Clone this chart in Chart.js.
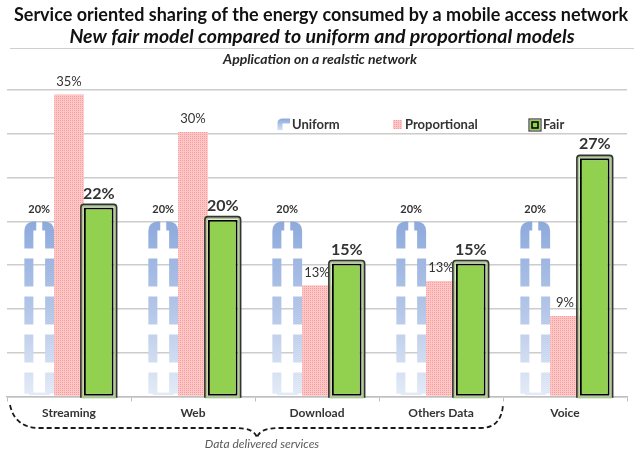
<!DOCTYPE html>
<html>
<head>
<meta charset="utf-8">
<script src="https://cdn.jsdelivr.net/npm/chart.js@4.4.1/dist/chart.umd.min.js"></script>
<style>
  html, body { margin: 0; padding: 0; background: #ffffff; }
  #wrap { position: relative; width: 634px; height: 456px; }
</style>
</head>
<body>
<div id="wrap"><canvas id="c" width="634" height="456"></canvas></div>
<script>
// ---- data ----
const categories = ['Streaming', 'Web', 'Download', 'Others Data', 'Voice'];
const seriesNames = ['Uniform', 'Proportional', 'Fair'];
const uniformValues = [20, 20, 20, 20, 20];
const proportionalValues = [34.5, 30.2, 12.7, 13.2, 9.2];
const fairValues = [21.6, 20.2, 15.2, 15.2, 27.2];
const titleLines = [
  'Service oriented sharing of the energy consumed by a mobile access network',
  'New fair model compared to uniform and proportional models',
  'Application on a realstic network'
];
const braceLabel = 'Data delivered services';
const yMax = 35;
const yStep = 5;

const FONT = 'Lato, "Open Sans", sans-serif';
const TXT = '#333333';

// pink dotted pattern
function makePinkPattern() {
  const pc = document.createElement('canvas');
  pc.width = 2; pc.height = 2;
  const p = pc.getContext('2d');
  p.fillStyle = '#ffc6c6'; p.fillRect(0, 0, 2, 2);
  p.fillStyle = '#f59e9e'; p.fillRect(0, 0, 1, 1);
  return document.getElementById('c').getContext('2d').createPattern(pc, 'repeat');
}
const pinkPattern = makePinkPattern();

function fitFont(ctx, text, style, target, maxSize) {
  let s = maxSize;
  while (s > 6) {
    ctx.font = style + ' ' + s + 'px ' + FONT;
    if (ctx.measureText(text).width <= target) break;
    s -= 0.25;
  }
  return ctx.font;
}

function drawUniformBox(ctx, x, top, base, w, grad) {
  const lw = 9;
  const l = x - w / 2 + lw / 2, r = x + w / 2 - lw / 2;
  const t = top + lw / 2, b = base - 2;
  const rad = 5;
  ctx.save();
  ctx.strokeStyle = grad;
  ctx.lineWidth = lw;
  ctx.setLineDash([28, 10]);
  // left half
  ctx.beginPath();
  ctx.moveTo(x - 3, t);
  ctx.lineTo(l + rad, t);
  ctx.quadraticCurveTo(l, t, l, t + rad);
  ctx.lineTo(l, b);
  ctx.stroke();
  // right half
  ctx.beginPath();
  ctx.moveTo(x + 3, t);
  ctx.lineTo(r - rad, t);
  ctx.quadraticCurveTo(r, t, r, t + rad);
  ctx.lineTo(r, b);
  ctx.stroke();
  // faint bottom
  ctx.setLineDash([]);
  ctx.lineWidth = 2.5;
  ctx.beginPath();
  ctx.moveTo(l, base - 2);
  ctx.lineTo(r, base - 2);
  ctx.stroke();
  ctx.restore();
}

const decorPlugin = {
  id: 'decor',
  beforeDatasetsDraw(chart) {
    const ctx = chart.ctx;
    const meta = chart.getDatasetMeta(0);
    meta.data.forEach((el) => {
      const p = el.getProps(['x', 'y', 'base', 'width'], true);
      const g = ctx.createLinearGradient(0, p.y, 0, p.base);
      g.addColorStop(0, '#8eaadc');
      g.addColorStop(0.5, '#b3c6e8');
      g.addColorStop(1, '#e4ebf7');
      drawUniformBox(ctx, p.x, p.y, p.base, p.width, g);
    });
  },
  afterDatasetsDraw(chart) {
    const ctx = chart.ctx;
    // fair double frame
    const fm = chart.getDatasetMeta(2);
    fm.data.forEach((el) => {
      const p = el.getProps(['x', 'y', 'base', 'width'], true);
      ctx.save();
      ctx.strokeStyle = '#a8c88c';
      ctx.lineWidth = 2;
      ctx.strokeRect(p.x - p.width / 2 - 1.5, p.y - 1.5, p.width + 3, p.base - p.y + 3);
      ctx.strokeStyle = '#333333';
      ctx.lineWidth = 1.6;
      ctx.beginPath();
      const rr = 3;
      const L = p.x - p.width / 2 - 3, R = p.x + p.width / 2 + 3, T = p.y - 3, B = p.base + 2;
      ctx.moveTo(L, B);
      ctx.lineTo(L, T + rr);
      ctx.quadraticCurveTo(L, T, L + rr, T);
      ctx.lineTo(R - rr, T);
      ctx.quadraticCurveTo(R, T, R, T + rr);
      ctx.lineTo(R, B);
      ctx.stroke();
      ctx.restore();
    });
    // data labels
    const styles = [
      { font: 'bold 11px ' + FONT, off: 12, vals: uniformValues },
      { font: '13px ' + FONT, off: 13, vals: proportionalValues },
      { font: 'bold 16px ' + FONT, off: 14, vals: fairValues }
    ];
    ctx.save();
    ctx.fillStyle = TXT;
    ctx.textAlign = 'center';
    ctx.textBaseline = 'middle';
    styles.forEach((s, di) => {
      const m = chart.getDatasetMeta(di);
      ctx.font = s.font;
      m.data.forEach((el, i) => {
        const p = el.getProps(['x', 'y'], true);
        ctx.fillText(Math.round(s.vals[i]) + '%', p.x, p.y - s.off);
      });
    });
    ctx.restore();
  },
  afterDraw(chart) {
    const ctx = chart.ctx;
    const W = chart.width;
    ctx.save();
    ctx.textAlign = 'center';
    ctx.textBaseline = 'middle';
    ctx.fillStyle = '#111111';
    ctx.font = fitFont(ctx, titleLines[0], 'bold', 620, 20);
    ctx.fillText(titleLines[0], 321, 15);
    ctx.font = fitFont(ctx, titleLines[1], 'italic bold', 506, 20);
    ctx.fillText(titleLines[1], 322, 37);
    ctx.strokeStyle = '#cfcfcf';
    ctx.lineWidth = 1;
    ctx.beginPath(); ctx.moveTo(10, 48.5); ctx.lineTo(W, 48.5); ctx.stroke();
    ctx.fillStyle = '#262626';
    ctx.font = fitFont(ctx, titleLines[2], 'italic bold', 213, 14);
    ctx.fillText(titleLines[2], 320, 59);

    // legend
    const ly = 125;
    ctx.textAlign = 'left';
    ctx.font = 'bold 13px ' + FONT;
    ctx.fillStyle = TXT;
    // uniform icon
    const ug = ctx.createLinearGradient(0, ly - 6, 0, ly + 5);
    ug.addColorStop(0, '#8eaadc'); ug.addColorStop(1, '#d6e1f3');
    ctx.strokeStyle = ug; ctx.lineWidth = 5;
    ctx.beginPath(); ctx.moveTo(280, ly + 5); ctx.lineTo(280, ly - 2); ctx.quadraticCurveTo(280, ly - 4, 283, ly - 4); ctx.lineTo(290, ly - 4); ctx.stroke();
    ctx.fillText(seriesNames[0], 292, ly);
    // proportional icon
    ctx.fillStyle = pinkPattern; ctx.fillRect(393, ly - 5, 9, 9);
    ctx.fillStyle = TXT;
    ctx.fillText(seriesNames[1], 405, ly);
    // fair icon
    ctx.fillStyle = '#92d050'; ctx.fillRect(530, ly - 5, 10, 10);
    ctx.strokeStyle = '#000'; ctx.lineWidth = 1.5; ctx.strokeRect(532, ly - 3, 6, 6);
    ctx.strokeStyle = '#3a3a3a'; ctx.lineWidth = 1.2; ctx.strokeRect(529, ly - 6, 12, 12);
    ctx.fillStyle = TXT;
    ctx.fillText(seriesNames[2], 543, ly);

    // brace under the data services
    const ca = chart.chartArea;
    const catW = (ca.right - ca.left) / categories.length;
    const x0 = ca.left + 3;
    const xm = ca.left + catW * 2 + 2;
    const x1 = ca.left + catW * 4;
    const yb = 428, yt = 405, yp = 438;
    ctx.strokeStyle = '#1a1a1a';
    ctx.lineWidth = 1.8;
    ctx.setLineDash([5, 3]);
    ctx.beginPath();
    ctx.moveTo(x0, yt);
    ctx.quadraticCurveTo(x0 + 5, yb, x0 + 30, yb);
    ctx.lineTo(xm - 22, yb);
    ctx.quadraticCurveTo(xm - 2, yb, xm, yp);
    ctx.quadraticCurveTo(xm + 2, yb, xm + 22, yb);
    ctx.lineTo(x1 - 22, yb);
    ctx.quadraticCurveTo(x1 - 2, yb, x1, yt);
    ctx.stroke();
    ctx.setLineDash([]);
    ctx.textAlign = 'center';
    ctx.fillStyle = '#595959';
    ctx.font = 'italic 12px ' + FONT;
    ctx.fillText(braceLabel, 262, 444);
    ctx.restore();
  }
};

new Chart(document.getElementById('c'), {
  type: 'bar',
  data: {
    labels: categories,
    datasets: [
      { label: seriesNames[0], data: uniformValues, backgroundColor: 'rgba(0,0,0,0)', borderWidth: 0 },
      { label: seriesNames[1], data: proportionalValues, backgroundColor: pinkPattern, borderWidth: 0 },
      { label: seriesNames[2], data: fairValues, backgroundColor: '#92d050', borderColor: '#000000', borderWidth: 2, borderSkipped: false }
    ]
  },
  options: {
    responsive: false,
    animation: false,
    devicePixelRatio: 1,
    categoryPercentage: 0.72,
    barPercentage: 1.0,
    layout: { padding: { top: 90, left: 7, right: 7, bottom: 32 } },
    plugins: { legend: { display: false }, title: { display: false }, tooltip: { enabled: false } },
    scales: {
      x: {
        grid: { display: true, drawOnChartArea: false, drawTicks: true, tickLength: 5, color: '#bfbfbf', offset: true },
        border: { display: true, color: '#bfbfbf', width: 1.5 },
        ticks: { color: TXT, font: { family: FONT, size: 12, weight: 'bold' }, padding: 4, maxRotation: 0 }
      },
      y: {
        min: 0, max: yMax,
        ticks: { display: false, stepSize: yStep },
        grid: { color: '#cccccc', lineWidth: 1.5, drawTicks: false },
        border: { display: false }
      }
    }
  },
  plugins: [decorPlugin]
});
</script>
</body>
</html>
